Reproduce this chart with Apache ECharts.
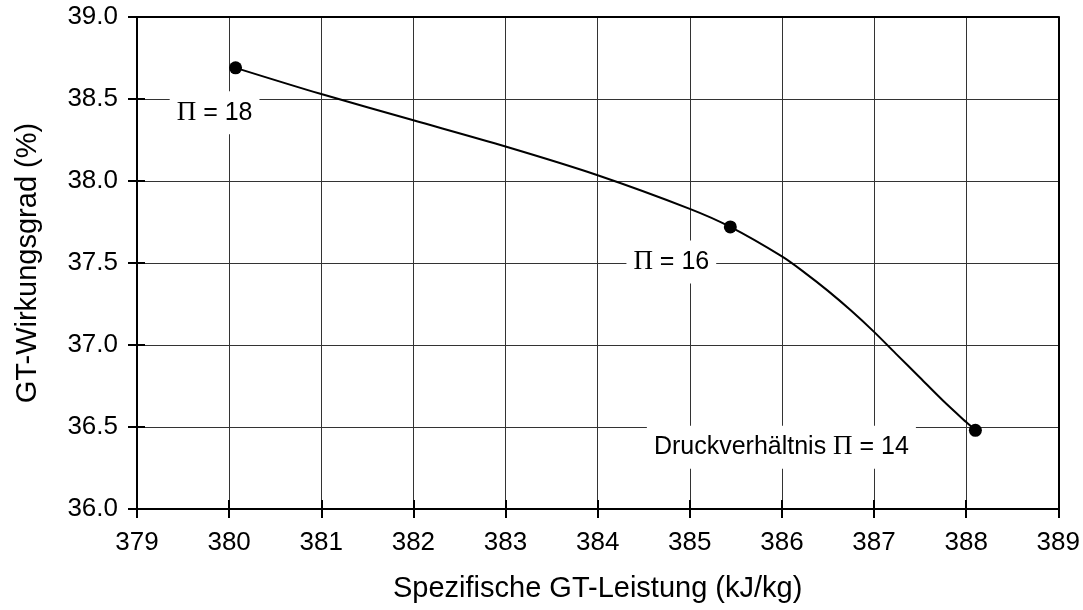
<!DOCTYPE html>
<html>
<head>
<meta charset="utf-8">
<script src="https://cdn.jsdelivr.net/npm/echarts@6/dist/echarts.min.js"></script>
<style>
  html, body { margin: 0; padding: 0; background: #fff; }
  #chart { width: 1083px; height: 610px; }
</style>
</head>
<body>
<div id="chart"></div>
<script>
// Efficiency curve of the gas turbine over specific work
const curveX = [380.07, 381.0, 382.0, 383.0, 384.0, 385.0, 385.44, 386.0, 386.25, 386.5, 386.75, 387.0, 387.25, 387.5, 387.75, 388.0, 388.10];
const curveY = [38.69, 38.53, 38.37, 38.21, 38.035, 37.83, 37.72, 37.54, 37.44, 37.33, 37.21, 37.08, 36.94, 36.80, 36.66, 36.53, 36.48];

// Design points for the three pressure ratios
const pointX = [380.07, 385.44, 388.10];
const pointY = [38.69, 37.72, 36.48];
const pointLabels = ['{p|Π} = 18', '{p|Π} = 16', 'Druckverhältnis {p|Π} = 14'];
const labelOffsets = [[-21, 45], [-59, 35], [-194, 17]];

const xTitle = 'Spezifische GT-Leistung (kJ/kg)';
const yTitle = 'GT-Wirkungsgrad (%)';

const FONT = 'Liberation Sans, Arial, sans-serif';

const chart = echarts.init(document.getElementById('chart'), null, { renderer: 'canvas' });

const axisLine = { show: true, lineStyle: { color: '#000', width: 2 } };
const splitLine = { show: true, lineStyle: { color: '#333', width: 1 } };

chart.setOption({
  animation: false,
  backgroundColor: '#fff',
  grid: { left: 137, right: 23, top: 17, bottom: 101, show: false },
  xAxis: [
    {
      type: 'value', min: 379, max: 389, interval: 1,
      axisLine: axisLine,
      axisTick: { show: true, length: 9, lineStyle: { color: '#000', width: 2 } },
      axisLabel: { margin: 21, color: '#000', fontSize: 26, fontFamily: FONT },
      splitLine: splitLine,
      name: xTitle, nameLocation: 'middle', nameGap: 65,
      nameTextStyle: { color: '#000', fontSize: 29, fontFamily: FONT }
    },
    {
      // inner half of the crossing tick marks on the bottom axis
      type: 'value', min: 379, max: 389, interval: 1, position: 'bottom',
      axisLine: { show: false },
      axisTick: { show: true, inside: true, length: 9, lineStyle: { color: '#000', width: 2 } },
      axisLabel: { show: false }, splitLine: { show: false }
    },
    {
      // top frame line
      type: 'value', min: 379, max: 389, interval: 1, position: 'top',
      axisLine: axisLine, axisTick: { show: false }, axisLabel: { show: false }, splitLine: { show: false }
    }
  ],
  yAxis: [
    {
      type: 'value', min: 36, max: 39, interval: 0.5,
      axisLine: axisLine,
      axisTick: { show: true, length: 9, lineStyle: { color: '#000', width: 2 } },
      axisLabel: { margin: 19, color: '#000', fontSize: 26, fontFamily: FONT,
        formatter: v => v.toFixed(1) },
      splitLine: splitLine,
      name: yTitle, nameLocation: 'middle', nameGap: 95,
      nameTextStyle: { color: '#000', fontSize: 29, fontFamily: FONT }
    },
    {
      // inner half of the crossing tick marks on the left axis
      type: 'value', min: 36, max: 39, interval: 0.5, position: 'left',
      axisLine: { show: false },
      axisTick: { show: true, inside: true, length: 8, lineStyle: { color: '#000', width: 2 } },
      axisLabel: { show: false }, splitLine: { show: false }
    },
    {
      // right frame line
      type: 'value', min: 36, max: 39, interval: 0.5, position: 'right',
      axisLine: axisLine, axisTick: { show: false }, axisLabel: { show: false }, splitLine: { show: false }
    }
  ],
  series: [
    {
      type: 'line',
      data: curveX.map((x, i) => [x, curveY[i]]),
      smooth: 0.3,
      showSymbol: false,
      lineStyle: { color: '#000', width: 2 },
      z: 3
    },
    {
      type: 'scatter',
      data: pointX.map((x, i) => ({
        value: [x, pointY[i]],
        label: { offset: labelOffsets[i], formatter: pointLabels[i] }
      })),
      symbol: 'circle',
      symbolSize: 13,
      itemStyle: { color: '#000', opacity: 1 },
      label: {
        show: true,
        position: 'inside',
        align: 'center',
        verticalAlign: 'middle',
        color: '#000',
        fontSize: 25,
        fontFamily: FONT,
        backgroundColor: '#fff',
        padding: [8, 7],
        rich: {
          p: { fontFamily: 'Liberation Serif, Times New Roman, serif', fontSize: 27, color: '#000' }
        }
      },
      z: 4
    }
  ]
});
</script>
</body>
</html>
